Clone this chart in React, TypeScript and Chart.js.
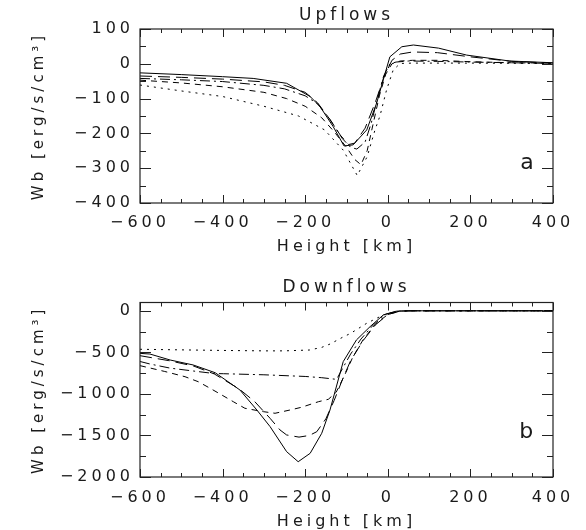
import React, { useEffect, useRef } from 'react';
import { Chart, registerables } from 'chart.js';

Chart.register(...registerables);

// ---------- axes ----------
const X_MIN = -600;
const X_MAX = 400;
const X_MAJOR = 200;
const X_MINOR = 50;
const X_TICKS = [-600, -400, -200, 0, 200, 400];

const UP_Y_MIN = -400;
const UP_Y_MAX = 100;
const UP_Y_MAJOR = 100;
const UP_Y_MINOR = 50;
const UP_Y_TICKS = [-400, -300, -200, -100, 0, 100];

const DOWN_Y_MIN = -2000;
const DOWN_Y_MAX = 100;
const DOWN_Y_MAJOR = 500;
const DOWN_Y_MINOR = 250;
const DOWN_Y_TICKS = [-2000, -1500, -1000, -500, 0];

const X_TITLE = 'Height [km]';
const Y_TITLE = 'Wb [erg/s/cm³]';
const UP_TITLE = 'Upflows';
const DOWN_TITLE = 'Downflows';
const UP_TAG = 'a';
const DOWN_TAG = 'b';
const UP_TAG_POS = [337, -285];
const DOWN_TAG_POS = [335, -1460];

// ---------- Upflows (panel a) ----------
const UP_SOLID_H = [-600, -500, -400, -326, -245, -188, -164, -132, -106, -84, -51, -27, -11, 5, 34, 62, 123, 191, 295, 400];
const UP_SOLID_W = [-26, -31, -37, -42, -56, -94, -123, -181, -236, -233, -190, -113, -46, 20, 49, 54, 45, 25, 8, 3];

const UP_LDASH_H = [-600, -500, -400, -300, -250, -200, -170, -140, -115, -95, -80, -55, -30, -10, 10, 30, 60, 120, 200, 300, 400];
const UP_LDASH_W = [-35, -39, -44, -52, -62, -82, -112, -160, -205, -232, -228, -185, -110, -40, 10, 28, 34, 32, 20, 7, 2];

const UP_DASH_H = [-600, -500, -400, -300, -245, -200, -160, -130, -100, -80, -65, -50, -35, -20, -5, 10, 30, 60, 120, 200, 300, 400];
const UP_DASH_W = [-47, -55, -66, -82, -100, -122, -155, -195, -240, -275, -290, -250, -170, -90, -30, 0, 8, 10, 10, 6, 3, 2];

const UP_DDOT_H = [-600, -500, -400, -300, -250, -200, -170, -140, -110, -90, -75, -55, -40, -25, -10, 5, 20, 50, 120, 200, 300, 400];
const UP_DDOT_W = [-42, -46, -51, -62, -72, -92, -115, -160, -215, -240, -245, -225, -170, -100, -35, 0, 5, 8, 7, 5, 3, 1];

const UP_DOT_H = [-600, -500, -400, -300, -216, -153, -108, -74, -50, -31, -19, -3, 13, 30, 60, 200, 400];
const UP_DOT_W = [-61, -78, -94, -122, -150, -190, -248, -321, -267, -190, -150, -75, -18, 1, 2, 2, 1];

// ---------- Downflows (panel b) ----------
const DN_SOLID_H = [-600, -576, -527, -471, -418, -358, -317, -285, -245, -217, -188, -160, -140, -108, -76, -43, -11, 20, 50, 100, 400];
const DN_SOLID_W = [-512, -520, -592, -652, -745, -953, -1194, -1394, -1695, -1816, -1715, -1474, -1194, -612, -351, -191, -50, -5, 0, 0, 0];

const DN_LDASH_H = [-600, -530, -470, -420, -360, -322, -285, -261, -245, -215, -190, -172, -150, -130, -110, -90, -60, -30, 0, 30, 60, 400];
const DN_LDASH_W = [-540, -600, -665, -760, -940, -1094, -1294, -1434, -1494, -1520, -1500, -1455, -1300, -1080, -830, -600, -360, -170, -45, -3, 0, 0];

const DN_DASH_H = [-600, -540, -491, -459, -430, -402, -374, -346, -301, -273, -237, -209, -168, -144, -125, -105, -85, -60, -30, 0, 30, 60, 400];
const DN_DASH_W = [-660, -730, -793, -853, -933, -1013, -1094, -1173, -1214, -1233, -1194, -1161, -1094, -1065, -980, -780, -560, -350, -160, -45, -3, 0, 0];

const DN_DDOT_H = [-600, -576, -527, -470, -420, -398, -300, -200, -160, -124, -108, -90, -65, -35, -5, 25, 60, 400];
const DN_DDOT_W = [-610, -640, -690, -725, -755, -757, -770, -790, -805, -825, -680, -520, -340, -170, -40, -3, 0, 0];

const DN_DOT_H = [-600, -500, -400, -300, -250, -190, -160, -140, -110, -90, -51, -11, 20, 50, 400];
const DN_DOT_W = [-463, -470, -477, -482, -482, -472, -440, -400, -320, -271, -150, -50, -8, 0, 0];

// ---------- styles ----------
const FONT = "'DejaVu Sans', sans-serif";
const TEXT_COLOR = '#1a1a1a';
const SPACING = '4px';
const DASH_SOLID: number[] = [];
const DASH_LONG = [12, 6];
const DASH_SHORT = [6, 5];
const DASH_DOTDASH = [10, 4, 2, 4];
const DASH_DOT = [2, 5];

const fmt = (v: number) => (v < 0 ? '\u2212' + Math.abs(v) : String(v));

const spacingPlugin = {
  id: 'spacing',
  beforeUpdate(chart: any) { (chart.ctx as any).letterSpacing = SPACING; },
  beforeDraw(chart: any) { (chart.ctx as any).letterSpacing = SPACING; },
};

function stepValues(min: number, max: number, step: number) {
  const out: number[] = [];
  const start = Math.ceil(min / step) * step;
  for (let v = start; v <= max + 1e-9; v += step) out.push(v);
  return out;
}

const framePlugin = {
  id: 'frame',
  afterDatasetsDraw(chart: any, _args: any, opts: any) {
    const { ctx, chartArea: a, scales } = chart;
    const xs = scales.x;
    const ys = scales.y;
    ctx.save();
    ctx.strokeStyle = '#222';
    ctx.lineWidth = 1.2;
    ctx.setLineDash([]);
    ctx.strokeRect(a.left, a.top, a.right - a.left, a.bottom - a.top);
    ctx.lineWidth = 1;
    ctx.beginPath();
    for (const v of stepValues(opts.xMin, opts.xMax, opts.xMinor)) {
      const major = Math.abs(v % opts.xMajor) < 1e-9;
      const len = major ? 8 : 4;
      const px = Math.round(xs.getPixelForValue(v)) + 0.5;
      ctx.moveTo(px, a.bottom); ctx.lineTo(px, a.bottom - len);
      ctx.moveTo(px, a.top); ctx.lineTo(px, a.top + len);
    }
    for (const v of stepValues(opts.yMin, opts.yMax, opts.yMinor)) {
      const major = Math.abs(v % opts.yMajor) < 1e-9;
      const len = major ? 11 : 6;
      const py = Math.round(ys.getPixelForValue(v)) + 0.5;
      ctx.moveTo(a.left, py); ctx.lineTo(a.left + len, py);
      ctx.moveTo(a.right, py); ctx.lineTo(a.right - len, py);
    }
    ctx.stroke();
    // panel tag
    ctx.fillStyle = TEXT_COLOR;
    ctx.font = `22px ${FONT}`;
    (ctx as any).letterSpacing = '0px';
    ctx.textAlign = 'center';
    ctx.textBaseline = 'middle';
    ctx.fillText(opts.tag, xs.getPixelForValue(opts.tagPos[0]), ys.getPixelForValue(opts.tagPos[1]));
    ctx.restore();
  },
};

const pts = (h: number[], w: number[]) => h.map((x, i) => ({ x, y: w[i] }));

function series(h: number[], w: number[], dash: number[]) {
  return {
    data: pts(h, w),
    borderColor: '#000',
    borderWidth: 1,
    borderDash: dash,
    pointRadius: 0,
    fill: false,
    tension: 0,
  };
}

function makeConfig(p: any) {
  const font = { family: FONT, size: 16, weight: 'normal' as const };
  const titleFont = { family: FONT, size: 17, weight: 'normal' as const };
  const yTitleFont = { family: FONT, size: 15, weight: 'normal' as const };
  return {
    type: 'line' as const,
    data: { datasets: p.datasets },
    options: {
      responsive: false,
      animation: false as const,
      devicePixelRatio: 1,
      layout: { padding: { left: 0, right: 33, top: 0, bottom: 0 } },
      plugins: {
        legend: { display: false },
        tooltip: { enabled: false },
        title: {
          display: true,
          text: p.title,
          fullSize: false,
          color: TEXT_COLOR,
          font: titleFont,
          padding: { top: p.titleTop, bottom: p.titleBottom },
        },
        frame: {
          xMin: X_MIN, xMax: X_MAX, xMajor: X_MAJOR, xMinor: X_MINOR,
          yMin: p.yMin, yMax: p.yMax, yMajor: p.yMajor, yMinor: p.yMinor,
          tag: p.tag, tagPos: p.tagPos,
        },
      },
      scales: {
        x: {
          type: 'linear' as const,
          position: 'bottom' as const,
          min: X_MIN,
          max: X_MAX,
          grid: { display: false, drawTicks: false },
          border: { display: false },
          afterBuildTicks: (s: any) => { s.ticks = X_TICKS.map((v) => ({ value: v })); },
          ticks: {
            autoSkip: false,
            maxRotation: 0,
            padding: p.xTickPad,
            color: TEXT_COLOR,
            font,
            callback: (v: any) => fmt(Number(v)),
          },
          title: { display: true, text: X_TITLE, color: TEXT_COLOR, font, padding: { top: 0, bottom: p.xTitlePad } },
          afterFit: (s: any) => { s.height = p.xAxisH; },
        },
        y: {
          type: 'linear' as const,
          position: 'left' as const,
          min: p.yMin,
          max: p.yMax,
          grid: { display: false, drawTicks: false },
          border: { display: false },
          afterBuildTicks: (s: any) => { s.ticks = p.yTicks.map((v: number) => ({ value: v })); },
          ticks: {
            autoSkip: false,
            padding: 6,
            color: TEXT_COLOR,
            font,
            callback: (v: any) => fmt(Number(v)),
          },
          title: { display: true, text: Y_TITLE, color: TEXT_COLOR, font: yTitleFont, padding: { top: 30, bottom: 0 } },
          afterFit: (s: any) => { s.width = 140; },
        },
      },
    },
    plugins: [spacingPlugin, framePlugin],
  };
}

function Panel({ cfg }: { cfg: any }) {
  const ref = useRef<HTMLCanvasElement>(null);
  useEffect(() => {
    if (!ref.current) return;
    const chart = new Chart(ref.current, makeConfig(cfg) as any);
    return () => chart.destroy();
  }, [cfg]);
  return <canvas ref={ref} width={586} height={265} style={{ display: 'block', width: 586, height: 265 }} />;
}

const UP_CFG = {
  title: UP_TITLE,
  titleTop: 5,
  titleBottom: 3.6,
  yMin: UP_Y_MIN, yMax: UP_Y_MAX, yMajor: UP_Y_MAJOR, yMinor: UP_Y_MINOR, yTicks: UP_Y_TICKS,
  xAxisH: 62,
  xTickPad: 10.4,
  xTitlePad: 8.4,
  tag: UP_TAG,
  tagPos: UP_TAG_POS,
  datasets: [
    series(UP_SOLID_H, UP_SOLID_W, DASH_SOLID),
    series(UP_LDASH_H, UP_LDASH_W, DASH_LONG),
    series(UP_DASH_H, UP_DASH_W, DASH_SHORT),
    series(UP_DDOT_H, UP_DDOT_W, DASH_DOTDASH),
    series(UP_DOT_H, UP_DOT_W, DASH_DOT),
  ],
};

const DOWN_CFG = {
  title: DOWN_TITLE,
  titleTop: 12,
  titleBottom: 5.1,
  yMin: DOWN_Y_MIN, yMax: DOWN_Y_MAX, yMajor: DOWN_Y_MAJOR, yMinor: DOWN_Y_MINOR, yTicks: DOWN_Y_TICKS,
  xAxisH: 53,
  xTickPad: 11.5,
  xTitlePad: -1.5,
  tag: DOWN_TAG,
  tagPos: DOWN_TAG_POS,
  datasets: [
    series(DN_SOLID_H, DN_SOLID_W, DASH_SOLID),
    series(DN_LDASH_H, DN_LDASH_W, DASH_LONG),
    series(DN_DASH_H, DN_DASH_W, DASH_SHORT),
    series(DN_DDOT_H, DN_DDOT_W, DASH_DOTDASH),
    series(DN_DOT_H, DN_DOT_W, DASH_DOT),
  ],
};

export default function App() {
  return (
    <div style={{ position: 'absolute', left: 0, top: 0, width: 586, height: 530, background: '#fff' }}>
      <Panel cfg={UP_CFG} />
      <Panel cfg={DOWN_CFG} />
    </div>
  );
}
